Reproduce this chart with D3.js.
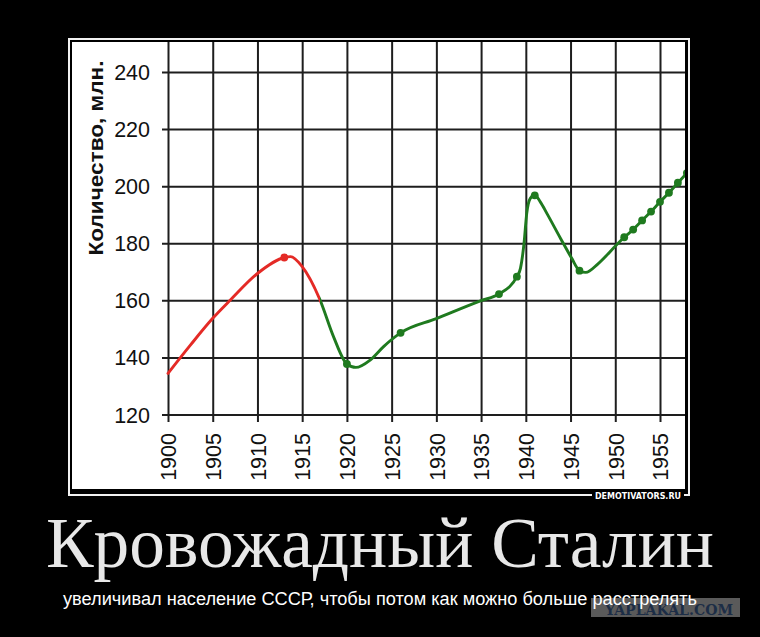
<!DOCTYPE html>
<html><head><meta charset="utf-8">
<script src="https://cdn.jsdelivr.net/npm/d3@7"></script>
<style>html,body{margin:0;padding:0;background:#000;}svg{display:block;}</style>
</head><body>
<svg id="c" width="760" height="637"></svg>
<script>
// ---- data ----
const curveYears  = [1900,1902.5,1905,1907,1910,1913,1913.7,1915,1917,1918.5,1920,1921,1922.6,1924.1,1926,1930,1935,1937,1939,1939.4,1939.8,1940.1,1940.5,1941,1941.6,1942.4,1943.9,1945.1,1946,1946.7,1948.1,1950.1,1951,1952,1953,1954,1955,1956,1957,1958,1958.6];
const curveValues = [134.4,144.3,153.7,160.2,169.4,175.0,175.3,171.8,160.1,147.3,137.7,136.5,139.1,143.8,148.6,153.6,159.9,162.2,168.3,171.2,180.0,190.4,195.7,196.8,194.6,190.2,181.6,174.9,170.4,169.8,172.9,179.3,182.1,184.8,188.0,191.1,194.5,197.7,201.2,204.6,206.6];
const redDotYears  = [1913];
const redDotValues = [175.0];
const greenDotYears  = [1920,1926,1937,1939,1941,1946,1951,1952,1953,1954,1955,1956,1957,1958];
const greenDotValues = [137.7,148.6,162.2,168.3,196.8,170.4,182.1,184.8,188.0,191.1,194.5,197.7,201.2,204.6];
const splitYear = 1917;
const xTicks = [1900,1905,1910,1915,1920,1925,1930,1935,1940,1945,1950,1955];
const yTicks = [120,140,160,180,200,220,240];
const yTitle = "Количество, млн.";
const title = "Кровожадный Сталин";
const subtitle = "увеличивал население СССР, чтобы потом как можно больше расстрелять";
const siteMark = "DEMOTIVATORS.RU";
const waterMark = "YAPLAKAL.COM";

// ---- layout ----
const svg = d3.select("#c");
const W = {x0:72, y0:42, x1:685, y1:489};   // white chart panel
const RED = "#e42a26", GREEN = "#1f7a1f", GRID = "#1e1e1e";

const x = d3.scaleLinear().domain([1900,1955]).range([168,660]);
const y = d3.scaleLinear().domain([120,240]).range([414.5,72]);

// frame
svg.append("rect").attr("x",69).attr("y",39).attr("width",620).attr("height",456)
  .attr("fill","none").attr("stroke","#f2f2f2").attr("stroke-width",2);
svg.append("rect").attr("x",W.x0).attr("y",W.y0).attr("width",W.x1-W.x0).attr("height",W.y1-W.y0).attr("fill","#fff");

const defs = svg.append("defs");
defs.append("clipPath").attr("id","panel").append("rect")
  .attr("x",W.x0).attr("y",W.y0).attr("width",W.x1-W.x0).attr("height",W.y1-W.y0);
defs.append("clipPath").attr("id","redpart").append("rect")
  .attr("x",W.x0).attr("y",W.y0).attr("width",x(splitYear)-W.x0).attr("height",W.y1-W.y0);
defs.append("clipPath").attr("id","greenpart").append("rect")
  .attr("x",x(splitYear)).attr("y",W.y0).attr("width",W.x1-x(splitYear)).attr("height",W.y1-W.y0);

// grid / axes
const gY = svg.append("g").attr("transform","translate(162,0)")
  .call(d3.axisLeft(y).tickValues(yTicks).tickSize(-(W.x1-162)).tickSizeOuter(0).tickPadding(12));
gY.select(".domain").remove();
gY.selectAll("line").attr("stroke",GRID).attr("stroke-width",2);
gY.selectAll("text").attr("font-family","'Liberation Sans', Arial, sans-serif").attr("font-size",21.5)
  .attr("fill","#111").attr("dy","0.35em");

const gX = svg.append("g").attr("transform","translate(0,422)")
  .call(d3.axisBottom(x).tickValues(xTicks).tickFormat(d3.format("d")).tickSize(-(422-W.y0)).tickSizeOuter(0));
gX.select(".domain").remove();
gX.selectAll("line").attr("stroke",GRID).attr("stroke-width",2);
gX.selectAll("text").attr("font-family","'Liberation Sans', Arial, sans-serif").attr("font-size",21.5)
  .attr("fill","#111").attr("transform","rotate(-90)").attr("text-anchor","end")
  .attr("x",-11).attr("y",0).attr("dy","0.36em");
gX.attr("font-size",null); gY.attr("font-size",null);

// y title
svg.append("text").attr("transform","translate(102.5,158) rotate(-90)")
  .attr("text-anchor","middle").attr("font-family","'Liberation Sans', Arial, sans-serif")
  .attr("font-weight","bold").attr("font-size",19.5).attr("fill","#111")
  .attr("textLength",195).attr("lengthAdjust","spacingAndGlyphs").text(yTitle);

// curve
const pts = curveYears.map((d,i)=>[d,curveValues[i]]);
const line = d3.line().x(d=>x(d[0])).y(d=>y(d[1])).curve(d3.curveMonotoneX);
const gc = svg.append("g").attr("clip-path","url(#panel)");
gc.append("path").attr("d",line(pts)).attr("fill","none").attr("stroke",RED).attr("stroke-width",2.9)
  .attr("stroke-linecap","round").attr("stroke-linejoin","round").attr("clip-path","url(#redpart)");
gc.append("path").attr("d",line(pts)).attr("fill","none").attr("stroke",GREEN).attr("stroke-width",2.9)
  .attr("stroke-linecap","round").attr("stroke-linejoin","round").attr("clip-path","url(#greenpart)");
gc.selectAll(".rd").data(redDotYears).join("circle").attr("cx",d=>x(d)).attr("cy",(d,i)=>y(redDotValues[i]))
  .attr("r",3.9).attr("fill",RED);
gc.selectAll(".gd").data(greenDotYears).join("circle").attr("cx",d=>x(d)).attr("cy",(d,i)=>y(greenDotValues[i]))
  .attr("r",3.9).attr("fill",GREEN);

// site mark on the frame
svg.append("rect").attr("x",592).attr("y",491).attr("width",92).attr("height",9).attr("fill","#000");
svg.append("text").attr("x",638).attr("y",498.5).attr("text-anchor","middle")
  .attr("font-family","'DejaVu Sans', Verdana, sans-serif").attr("font-weight","bold").attr("font-size",8.5)
  .attr("fill","#fff").attr("textLength",86).attr("lengthAdjust","spacingAndGlyphs").text(siteMark);

// titles
svg.append("text").attr("x",380).attr("y",567).attr("text-anchor","middle")
  .attr("font-family","'Liberation Serif', 'Times New Roman', serif").attr("font-size",72)
  .attr("fill","#e8e8e8").attr("textLength",668).attr("lengthAdjust","spacingAndGlyphs").text(title);

// watermark
svg.append("rect").attr("x",591).attr("y",598).attr("width",149).attr("height",19).attr("fill","#5a5a5a");
svg.append("text").attr("x",669).attr("y",614.5).attr("text-anchor","middle")
  .attr("font-family","'DejaVu Serif', serif").attr("font-weight","bold").attr("font-size",15)
  .attr("fill","#1c2d46").attr("textLength",128).attr("lengthAdjust","spacingAndGlyphs").text(waterMark);

svg.append("text").attr("x",380).attr("y",605).attr("text-anchor","middle")
  .attr("font-family","'Liberation Sans', Arial, sans-serif").attr("font-size",18)
  .attr("fill","#fff").attr("textLength",634).attr("lengthAdjust","spacingAndGlyphs").text(subtitle);
</script>
</body></html>
